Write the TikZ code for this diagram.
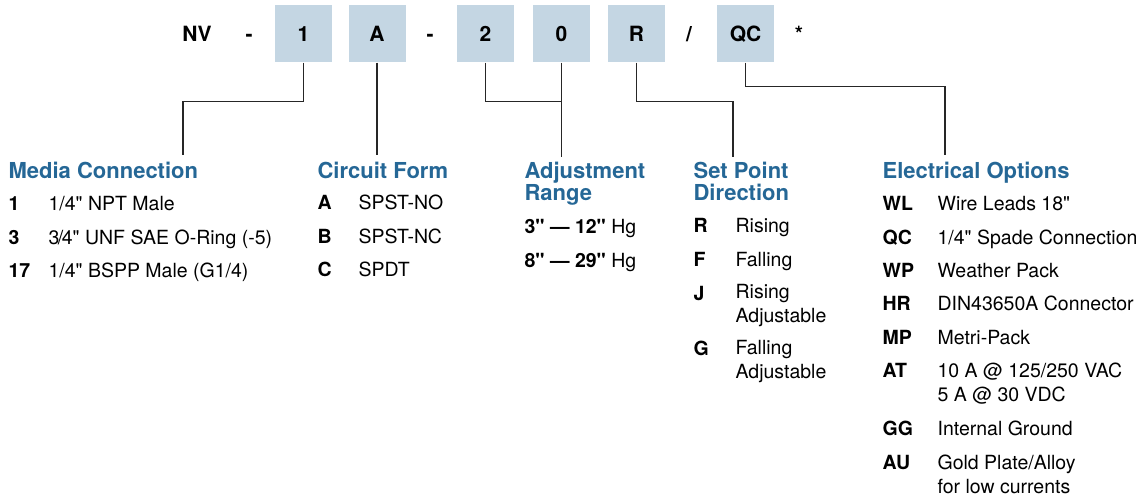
\documentclass[tikz,border=0pt]{standalone}
\usepackage{fontspec}
\setmainfont{TeX Gyre Heros}[Ligatures=TeXOff]
\usepackage{tikz}

\definecolor{boxblue}{RGB}{196,214,227}
\definecolor{headblue}{RGB}{37,103,150}

\begin{document}
\begin{tikzpicture}[x=1pt, y=-1pt, line width=1.2pt,
    codebox/.style={fill=boxblue, minimum size=57pt, inner sep=0pt,
        font=\fontsize{21}{21}\selectfont\bfseries, text height=15pt, text depth=0pt},
    sepchar/.style={inner sep=0pt, font=\fontsize{21}{21}\selectfont\bfseries,
        text height=15pt, text depth=0pt},
    link/.style={draw=black!85},
    head/.style={anchor=base west, inner sep=0pt, align=left, text=headblue,
        font=\fontsize{22}{22}\selectfont\bfseries},
    code/.style={anchor=base west, inner sep=0pt, font=\fontsize{19.5}{24}\selectfont\bfseries},
    desc/.style={anchor=base west, inner sep=0pt, align=left, font=\fontsize{19.5}{24}\selectfont}]

    \useasboundingbox (0,0) rectangle (1142,496);

    % draw part number row
    \node[sepchar] (nv) at (197,34) {NV};
    \node[sepchar] (dash1) at (249,34) {-};
    \node[codebox] (b1) at (303.5,33.5) {1};
    \node[codebox] (bA) at (377,33.5) {A};
    \node[sepchar] (dash2) at (430,34) {-};
    \node[codebox] (b2) at (485.5,33.5) {2};
    \node[codebox] (b0) at (561.5,33.5) {0};
    \node[codebox] (bR) at (636.5,33.5) {R};
    \node[sepchar] (slash) at (689,34) {/};
    \node[codebox] (bQC) at (745.5,33.5) {QC};
    \node[sepchar] (star) at (799,34) {*};

    % draw leader lines
    \coordinate (mc) at (183,155);
    \coordinate (cf) at (377,155);
    \coordinate (ar) at (561.5,157);
    \coordinate (sp) at (733,157);
    \coordinate (eo) at (945,155);
    \draw[link] (b1.south) -- ++(0,39) -| (mc);
    \draw[link] (bA.south) -- (cf);
    \draw[link] (b2.south) -- ++(0,39) -| (ar);
    \draw[link] (b0.south) -- (ar);
    \draw[link] (bR.south) -- ++(0,39) -| (sp);
    \draw[link] (bQC.south) -- ++(0,24) -| (eo);

    % media connection
    \node[head] (mchead) at (8,178) {Media Connection};
    \node[code] (mc1) at (8,210) {1};
    \node[desc] (mc1d) at (48,210) {1/4" NPT Male};
    \node[code] (mc3) at (8,244) {3};
    \node[desc] (mc3d) at (48,244) {3\kern-1.5pt/\kern-1.5pt4" UNF SAE O-Ring (-5)};
    \node[code] (mc17) at (8,277) {17};
    \node[desc] (mc17d) at (48,277) {1/4" BSPP Male (G1/4)};

    % circuit form
    \node[head] (cfhead) at (317,178) {Circuit Form};
    \node[code] (cfA) at (317,209) {A};
    \node[desc] (cfAd) at (358,209) {SPST-NO};
    \node[code] (cfB) at (317,243) {B};
    \node[desc] (cfBd) at (358,243) {SPST-NC};
    \node[code] (cfC) at (317,276) {C};
    \node[desc] (cfCd) at (358,276) {SPDT};

    % adjustment range (base of a two line node is its last line)
    \node[head] (arhead) at (524,200) {Adjustment\\Range};
    \node[desc] (ar1) at (524,233) {\textbf{3" — 12"} Hg};
    \node[desc] (ar2) at (524,267) {\textbf{8" — 29"} Hg};

    % set point direction
    \node[head] (sphead) at (693,200) {Set Point\\Direction};
    \node[code] (spR) at (693,232) {R};
    \node[desc] (spRd) at (735,232) {Rising};
    \node[code] (spF) at (693,266) {F};
    \node[desc] (spFd) at (735,266) {Falling};
    \node[code] (spJ) at (693,300) {J};
    \node[desc] (spJd) at (735,322) {Rising\\Adjustable};
    \node[code] (spG) at (693,355) {G};
    \node[desc] (spGd) at (735,378) {Falling\\Adjustable};

    % electrical options
    \node[head] (eohead) at (882,178) {Electrical Options};
    \node[code] (eoWL) at (882,210) {WL};
    \node[desc] (eoWLd) at (937,210) {Wire Leads 18"};
    \node[code] (eoQC) at (882,244) {QC};
    \node[desc] (eoQCd) at (937,244) {1/4" Spade Connection};
    \node[code] (eoWP) at (882,277) {WP};
    \node[desc] (eoWPd) at (937,277) {Weather Pack};
    \node[code] (eoHR) at (882,310) {HR};
    \node[desc] (eoHRd) at (937,310) {DIN43650A Connector};
    \node[code] (eoMP) at (882,344) {MP};
    \node[desc] (eoMPd) at (937,344) {Metri-Pack};
    \node[code] (eoAT) at (882,377) {AT};
    \node[desc] (eoATd) at (937,401) {10 A @ 125/250 VAC\\5 A @ 30 VDC};
    \node[code] (eoGG) at (882,435) {GG};
    \node[desc] (eoGGd) at (937,435) {Internal Ground};
    \node[code] (eoAU) at (882,469) {AU};
    \node[desc] (eoAUd) at (937,493) {Gold Plate/Alloy\\for low currents};

\end{tikzpicture}
\end{document}
